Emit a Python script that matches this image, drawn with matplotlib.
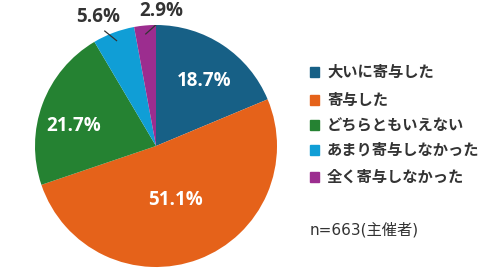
import numpy as np
import matplotlib.pyplot as plt

plt.rcParams['font.family'] = ['Noto Sans CJK JP', 'DejaVu Sans']

# data
labels = ['大いに寄与した', '寄与した', 'どちらともいえない', 'あまり寄与しなかった', '全く寄与しなかった']
values = [18.7, 51.1, 21.7, 5.6, 2.9]
colors = ['#176086', '#e5621a', '#258232', '#109ed6', '#9c2d8f']
note = 'n=663(主催者)'

fig = plt.figure(figsize=(4.98, 2.68), dpi=100)
ax = fig.add_axes([35 / 498, 1 / 268, 242 / 498, 242 / 268])
wedges, _ = ax.pie(values, colors=colors, startangle=90, counterclock=False,
                   radius=1.0, wedgeprops=dict(linewidth=0))
ax.set_xlim(-1, 1)
ax.set_ylim(-1, 1)
ax.set_aspect('equal')
ax.axis('off')

pct_font = dict(family=['Open Sans', 'DejaVu Sans'], fontsize=13.5, fontweight='bold')

# label placement: (radius, angle offset in deg) per slice
inside = [(0.67, -3), (0.47, -1), (0.70, 7)]
for i, w in enumerate(wedges):
    mid = np.deg2rad((w.theta1 + w.theta2) / 2)
    txt = f'{values[i]}%'
    if i < 3:
        r, off = inside[i]
        a = mid + np.deg2rad(off)
        ax.text(r * np.cos(a), r * np.sin(a), txt, color='white',
                ha='center', va='center', **pct_font)
    else:
        off = 3.5 if i == 3 else -7.5
        a = mid + np.deg2rad(off)
        ax.plot([0.93 * np.cos(mid), 1.04 * np.cos(a)],
                [0.93 * np.sin(mid), 1.04 * np.sin(a)], color='#333333', lw=0.9)
        r = 1.165 if i == 3 else 1.115
        ax.text(r * np.cos(a), r * np.sin(a), txt, color='#333333',
                ha='center', va='center', clip_on=False, **pct_font)

# legend
ys = [72, 100, 125, 150, 177]
for lab, c, y in zip(labels, colors, ys):
    yf = 1 - y / 268
    fig.patches.append(plt.Rectangle((310 / 498, yf - 5 / 268), 9 / 498, 10 / 268,
                                     transform=fig.transFigure, color=c))
    fig.text(327 / 498, yf, lab, fontsize=11, fontweight='bold', color='#333333',
             va='center', ha='left')
fig.text(310 / 498, 1 - 230 / 268, note, fontsize=11, color='#333333',
         family=['DejaVu Sans', 'Noto Sans CJK JP'], va='center', ha='left')

fig.savefig('out.png', dpi=100)
